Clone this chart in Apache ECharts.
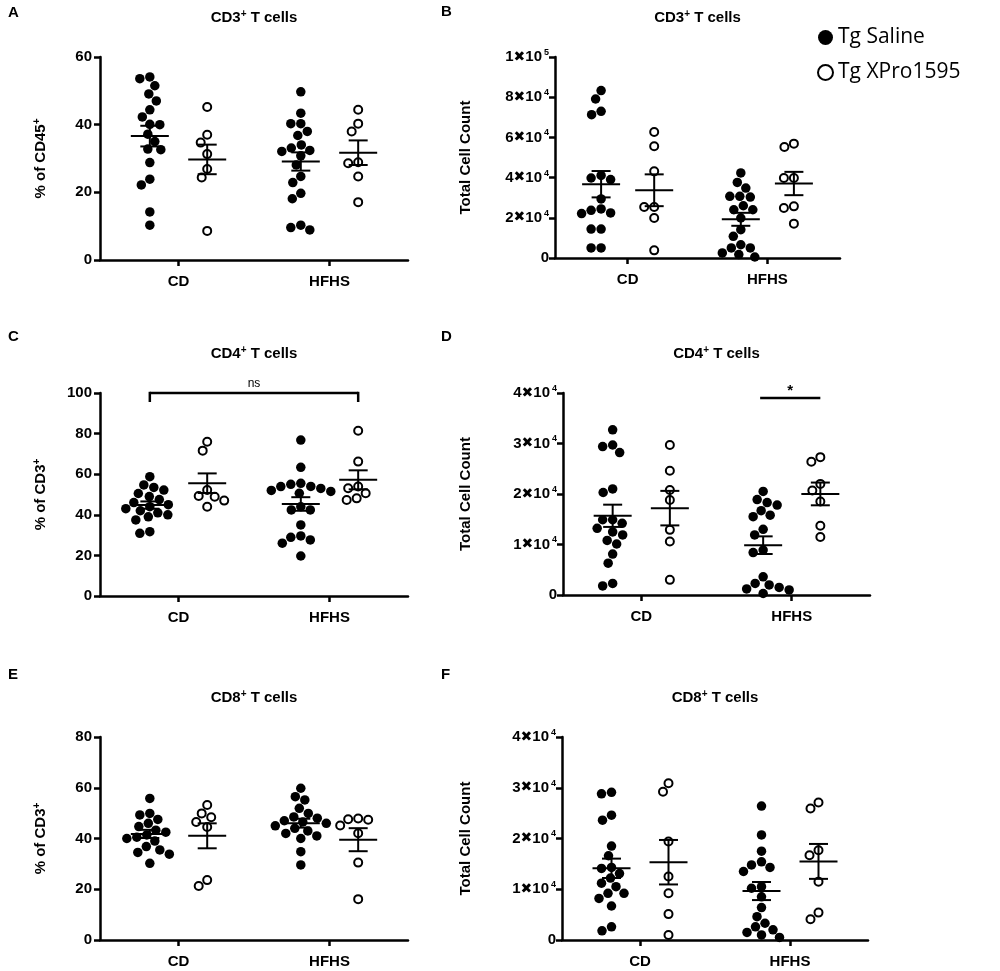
<!DOCTYPE html>
<html><head><meta charset="utf-8">
<script src="https://cdn.jsdelivr.net/npm/echarts@6/dist/echarts.min.js"></script>
<style>html,body{margin:0;padding:0;background:#fff}#c{width:1000px;height:971px}</style>
</head><body><div id="c"></div>
<script>
// ---------- data ----------
const categories = ['CD', 'HFHS'];
const groupNames = ['Tg Saline', 'Tg XPro1595'];

// A: CD3+ T cells, % of CD45+
const a_salCD = [54.1, 53.6, 51.5, 49.1, 47.0, 44.4, 42.3, 40.0, 40.1, 37.2, 35.0, 32.8, 32.6, 28.8, 23.9, 22.2, 14.2, 10.3];
const a_xpCD  = [45.2, 37.0, 34.7, 31.3, 26.9, 24.4, 8.6];
const a_salHF = [49.7, 43.4, 40.3, 40.3, 38.0, 36.8, 34.0, 33.1, 32.4, 32.1, 30.8, 28.1, 24.7, 22.9, 19.7, 18.1, 10.3, 9.6, 8.9];
const a_xpHF  = [44.4, 40.3, 38.0, 28.9, 28.6, 24.7, 17.1];
// B: CD3+ T cells, total cell count
const b_salCD = [83300, 79100, 73000, 71300, 41100, 39800, 39000, 29400, 24400, 23700, 22400, 22100, 14400, 14400, 5000, 5000];
const b_xpCD  = [62700, 55600, 43100, 25400, 25400, 19900, 3800];
const b_salHF = [42300, 37600, 34800, 30700, 30700, 30300, 26000, 24000, 24000, 19900, 14100, 10800, 6600, 5000, 5000, 2500, 1700, 500];
const b_xpHF  = [56900, 55200, 39800, 39800, 25700, 24900, 17100];
// C: CD4+ T cells, % of CD3+
const c_salCD = [58.8, 54.7, 53.5, 52.2, 50.5, 49.0, 47.5, 46.0, 45.0, 44.0, 43.0, 42.0, 41.0, 40.0, 39.0, 37.5, 31.7, 30.9];
const c_xpCD  = [76.0, 71.6, 52.2, 49.3, 48.9, 47.0, 44.0];
const c_salHF = [76.8, 63.4, 55.5, 55.0, 54.0, 53.9, 53.0, 52.0, 51.5, 50.6, 44.0, 42.4, 42.4, 35.0, 29.6, 28.9, 27.6, 26.0, 19.7];
const c_xpHF  = [81.4, 66.2, 53.9, 53.1, 50.6, 48.1, 47.3];
// D: CD4+ T cells, total cell count
const d_salCD = [32700, 29700, 29400, 28200, 21000, 20300, 14900, 14900, 14200, 13200, 12500, 11900, 10800, 10100, 8100, 6300, 2300, 1800];
const d_xpCD  = [29700, 24600, 20800, 18800, 12900, 10600, 3000];
const d_salHF = [20500, 18900, 18300, 17800, 16700, 15800, 15500, 13000, 11900, 8900, 8400, 3600, 2300, 2000, 1500, 1200, 1000, 300];
const d_xpHF  = [27300, 26400, 22000, 20700, 18500, 13700, 11500];
// E: CD8+ T cells, % of CD3+
const e_salCD = [55.8, 49.9, 49.3, 47.5, 46.0, 44.7, 43.3, 42.5, 41.4, 40.5, 40.0, 39.0, 36.8, 35.5, 34.5, 33.8, 30.2];
const e_xpCD  = [53.2, 49.9, 48.4, 46.5, 44.5, 23.6, 21.3];
const e_salHF = [59.8, 56.5, 55.2, 51.9, 49.9, 48.5, 48.0, 47.0, 46.5, 46.0, 45.0, 44.0, 43.0, 42.0, 41.0, 40.0, 34.8, 29.6];
const e_xpHF  = [47.9, 47.6, 47.4, 45.1, 42.1, 30.5, 16.1];
// F: CD8+ T cells, total cell count
const f_salCD = [29100, 28800, 24600, 23600, 18500, 16600, 14300, 14100, 13100, 12200, 11200, 10500, 9200, 9200, 8200, 6700, 2600, 1800];
const f_xpCD  = [30900, 29200, 19400, 12500, 9200, 5100, 1000];
const f_salHF = [26400, 20700, 17500, 15400, 14800, 14300, 13500, 10500, 10200, 8500, 6400, 4600, 3300, 2600, 2000, 1500, 1000, 500];
const f_xpHF  = [27100, 25900, 17700, 16700, 11500, 5400, 4100];

// axis ranges / ticks
const pctTicksA = [0, 20, 40, 60];
const pctTicksC = [0, 20, 40, 60, 80, 100];
const pctTicksE = [0, 20, 40, 60, 80];
const cntTicksB = [0, 20000, 40000, 60000, 80000, 100000];
const cntTicks4 = [0, 10000, 20000, 30000, 40000];

// significance annotations
const sigC = { from: ['CD', 0], to: ['HFHS', 1], value: 100, label: 'ns', bracket: true };
const sigD = { from: ['HFHS', 0], to: ['HFHS', 1], value: 39000, label: '*', bracket: false };

// ---------- layout ----------
const FONT = '"Liberation Sans", Arial, sans-serif';
const XMIN = -0.52, XMAX = 1.52, GROUP_OFF = 0.19, DOT_D = 10;

const panels = [
  { label: 'A', lx: 8,   ly: 13,  cell: 'CD3', grid: { left: 100, top: 57,  width: 308, height: 203 }, ticks: pctTicksA, count: false, yName: '% of CD45', nameGap: 50, sal: [a_salCD, a_salHF], xp: [a_xpCD, a_xpHF] },
  { label: 'B', lx: 441, ly: 12,  cell: 'CD3', grid: { left: 555, top: 57,  width: 285, height: 201 }, ticks: cntTicksB, count: true,  yName: 'Total Cell Count', nameGap: 80, sal: [b_salCD, b_salHF], xp: [b_xpCD, b_xpHF] },
  { label: 'C', lx: 8,   ly: 337, cell: 'CD4', grid: { left: 100, top: 393, width: 308, height: 203 }, ticks: pctTicksC, count: false, yName: '% of CD3', nameGap: 50, sal: [c_salCD, c_salHF], xp: [c_xpCD, c_xpHF], sig: sigC },
  { label: 'D', lx: 441, ly: 337, cell: 'CD4', grid: { left: 563, top: 393, width: 307, height: 202 }, ticks: cntTicks4, count: true,  yName: 'Total Cell Count', nameGap: 88, sal: [d_salCD, d_salHF], xp: [d_xpCD, d_xpHF], sig: sigD },
  { label: 'E', lx: 8,   ly: 675, cell: 'CD8', grid: { left: 100, top: 737, width: 308, height: 203 }, ticks: pctTicksE, count: false, yName: '% of CD3', nameGap: 50, sal: [e_salCD, e_salHF], xp: [e_xpCD, e_xpHF] },
  { label: 'F', lx: 441, ly: 675, cell: 'CD8', grid: { left: 562, top: 737, width: 306, height: 203 }, ticks: cntTicks4, count: true,  yName: 'Total Cell Count', nameGap: 87, sal: [f_salCD, f_salHF], xp: [f_xpCD, f_xpHF] }
];

// ---------- helpers ----------
function mean(a) { return a.reduce((s, v) => s + v, 0) / a.length; }
function sem(a) { const m = mean(a); const v = a.reduce((s, x) => s + (x - m) * (x - m), 0) / (a.length - 1); return Math.sqrt(v / a.length); }
// beeswarm layout in pixel space (positions only, values untouched)
function swarm(vals, cx, pxX, pxY) {
  const order = vals.map((v, i) => i).sort((i, j) => vals[j] - vals[i]);
  const placed = []; const out = new Array(vals.length);
  for (const i of order) {
    const y = vals[i] * pxY; let off = 0;
    for (let k = 0; k < 600; k++) {
      const o = (k % 2 === 1 ? -1 : 1) * Math.ceil(k / 2) * 0.5;
      if (placed.every(p => (p.x - o) * (p.x - o) + (p.y - y) * (p.y - y) >= DOT_D * DOT_D)) { off = o; break; }
    }
    placed.push({ x: off, y }); out[i] = [cx + off / pxX, vals[i]];
  }
  return out;
}
function groupX(cat, g) { return categories.indexOf(cat) + (g === 0 ? -GROUP_OFF : GROUP_OFF); }
function cntLabel(v) {
  if (v === 0) return '{m|0}';
  const e = Math.floor(Math.log10(v) + 1e-9);
  const m = Math.round(v / Math.pow(10, e));
  return '{m|' + m + '}{x|✖}{m|10}{e|' + e + '}';
}
const lineSt = { stroke: '#000', lineWidth: 2 };

function meanSemRender(params, api) {
  const x = api.value(0), m = api.value(1), s = api.value(2);
  const c = api.coord([x, m]), t = api.coord([x, m + s]), b = api.coord([x, m - s]);
  return { type: 'group', children: [
    { type: 'line', shape: { x1: c[0] - 19, y1: c[1], x2: c[0] + 19, y2: c[1] }, style: lineSt },
    { type: 'line', shape: { x1: c[0], y1: t[1], x2: c[0], y2: b[1] }, style: lineSt },
    { type: 'line', shape: { x1: c[0] - 9.5, y1: t[1], x2: c[0] + 9.5, y2: t[1] }, style: lineSt },
    { type: 'line', shape: { x1: c[0] - 9.5, y1: b[1], x2: c[0] + 9.5, y2: b[1] }, style: lineSt }
  ]};
}
function sigRender(sig) {
  return function (params, api) {
    const p1 = api.coord([api.value(0), api.value(2)]);
    const p2 = api.coord([api.value(1), api.value(2)]);
    const st = { stroke: '#000', lineWidth: 2.5 };
    const ch = [{ type: 'line', shape: { x1: p1[0], y1: p1[1], x2: p2[0], y2: p2[1] }, style: st }];
    if (sig.bracket) {
      ch.push({ type: 'line', shape: { x1: p1[0], y1: p1[1] - 1.2, x2: p1[0], y2: p1[1] + 9 }, style: st });
      ch.push({ type: 'line', shape: { x1: p2[0], y1: p2[1] - 1.2, x2: p2[0], y2: p2[1] + 9 }, style: st });
    }
    ch.push({ type: 'text', style: { text: sig.label, x: (p1[0] + p2[0]) / 2, y: p1[1] - (sig.bracket ? 3 : 0),
      align: 'center', verticalAlign: 'bottom', fill: '#000',
      font: (sig.bracket ? '12px ' : 'bold 15px ') + FONT } });
    return { type: 'group', children: ch };
  };
}

// ---------- build option ----------
const grids = [], xAxes = [], yAxes = [], series = [], graphics = [];
panels.forEach((p, i) => {
  grids.push(p.grid);
  const pxX = p.grid.width / (XMAX - XMIN);
  const yMax = p.ticks[p.ticks.length - 1];
  const pxY = p.grid.height / yMax;
  xAxes.push({
    type: 'value', gridIndex: i, min: XMIN, max: XMAX,
    axisLine: { show: true, onZero: false, lineStyle: { color: '#000', width: 2.5 } },
    axisTick: { show: true, customValues: [0, 1], length: 6, lineStyle: { color: '#000', width: 2.5 } },
    axisLabel: { show: true, customValues: [0, 1], formatter: v => categories[Math.round(v)], margin: 14,
      color: '#000', fontFamily: FONT, fontWeight: 'bold', fontSize: 15 },
    splitLine: { show: false }
  });
  const rich = {
    m: { fontFamily: FONT, fontWeight: 'bold', fontSize: 15, color: '#000', lineHeight: 18 },
    x: { fontFamily: '"DejaVu Sans"', fontWeight: 'bold', fontSize: 14, color: '#000', lineHeight: 18 },
    e: { fontFamily: FONT, fontWeight: 'bold', fontSize: 9, color: '#000', lineHeight: 10, verticalAlign: 'top', padding: [0, 0, 0, 2] }
  };
  yAxes.push({
    type: 'value', gridIndex: i, min: 0, max: yMax, interval: p.ticks[1] - p.ticks[0],
    axisLine: { show: true, onZero: false, lineStyle: { color: '#000', width: 2.5 } },
    axisTick: { show: true, length: 6, lineStyle: { color: '#000', width: 2.5 } },
    axisLabel: p.count
      ? { formatter: cntLabel, rich, margin: 6 }
      : { color: '#000', fontFamily: FONT, fontWeight: 'bold', fontSize: 15, margin: 8 },
    splitLine: { show: false },
    name: p.count ? '{n|' + p.yName + '}' : '{n|' + p.yName + '}{s|+}',
    nameLocation: 'middle', nameRotate: 90, nameGap: p.nameGap,
    nameTextStyle: { rich: {
      n: { fontFamily: FONT, fontWeight: 'bold', fontSize: 15, color: '#000', lineHeight: 18 },
      s: { fontFamily: FONT, fontWeight: 'bold', fontSize: 10, color: '#000', lineHeight: 10, verticalAlign: 'top' }
    } }
  });
  const salData = swarm(p.sal[0], groupX('CD', 0), pxX, pxY).concat(swarm(p.sal[1], groupX('HFHS', 0), pxX, pxY));
  const xpData = swarm(p.xp[0], groupX('CD', 1), pxX, pxY).concat(swarm(p.xp[1], groupX('HFHS', 1), pxX, pxY));
  series.push({ type: 'scatter', name: groupNames[0], xAxisIndex: i, yAxisIndex: i, data: salData,
    symbol: 'circle', symbolSize: 9.5, itemStyle: { color: '#000', opacity: 1 }, z: 2, silent: true });
  series.push({ type: 'scatter', name: groupNames[1], xAxisIndex: i, yAxisIndex: i, data: xpData,
    symbol: 'circle', symbolSize: 8, itemStyle: { color: '#fff', borderColor: '#000', borderWidth: 2, opacity: 1 }, z: 3, silent: true });
  const stats = [
    [groupX('CD', 0), mean(p.sal[0]), sem(p.sal[0])],
    [groupX('HFHS', 0), mean(p.sal[1]), sem(p.sal[1])],
    [groupX('CD', 1), mean(p.xp[0]), sem(p.xp[0])],
    [groupX('HFHS', 1), mean(p.xp[1]), sem(p.xp[1])]
  ];
  series.push({ type: 'custom', xAxisIndex: i, yAxisIndex: i, data: stats, renderItem: meanSemRender, z: 5, silent: true, clip: false });
  if (p.sig) {
    const s = p.sig;
    series.push({ type: 'custom', xAxisIndex: i, yAxisIndex: i, z: 6, silent: true, clip: false,
      data: [[groupX(s.from[0], s.from[1]) + (s.bracket ? 0 : -0.02), groupX(s.to[0], s.to[1]), s.value]],
      renderItem: sigRender(s) });
  }
  // title and panel letter
  graphics.push({ type: 'text', x: p.grid.left + p.grid.width / 2, y: p.grid.top - 39,
    style: { text: '{t|' + p.cell + '}{s|+}{t| T cells}', align: 'center', verticalAlign: 'middle',
      rich: { t: { font: 'bold 15px ' + FONT, fill: '#000', lineHeight: 18 },
              s: { font: 'bold 10px ' + FONT, fill: '#000', lineHeight: 10, verticalAlign: 'top' } } } });
  graphics.push({ type: 'text', x: p.lx, y: p.ly,
    style: { text: p.label, align: 'left', verticalAlign: 'middle', font: 'bold 15px ' + FONT, fill: '#000' } });
});

const chart = echarts.init(document.getElementById('c'));
chart.setOption({
  animation: false,
  backgroundColor: '#fff',
  grid: grids, xAxis: xAxes, yAxis: yAxes, series,
  legend: { data: groupNames, orient: 'vertical', left: 812, top: 22, itemWidth: 15, itemHeight: 15, itemGap: 14,
    icon: 'circle', textStyle: { fontFamily: '"Open Sans", sans-serif', fontSize: 21, color: '#000' }, selectedMode: false },
  graphic: graphics
});
</script></body></html>
